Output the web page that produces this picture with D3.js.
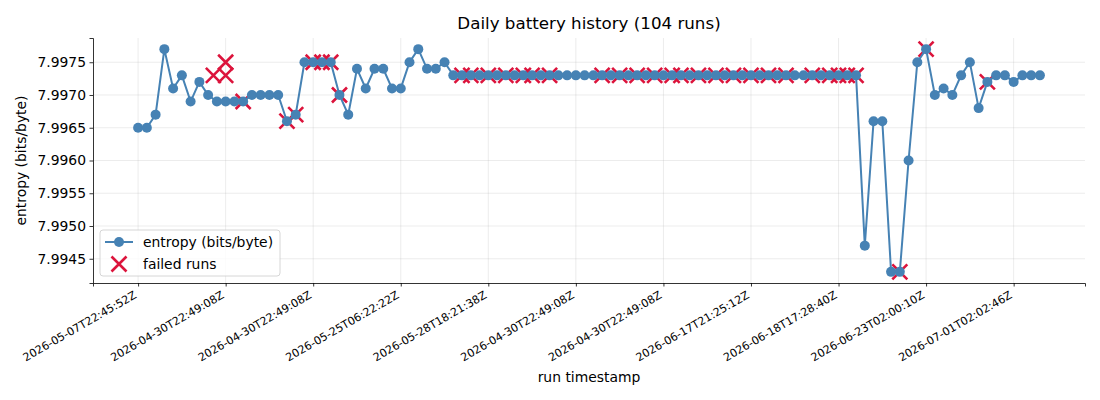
<!DOCTYPE html>
<html lang="en">
<head>
    <meta charset="UTF-8">
    <title>Daily battery history</title>
    <script src="https://d3js.org/d3.v7.min.js"></script>
    <style>
        body { margin: 0; background: #fff; }
        text { font-family: "DejaVu Sans", sans-serif; fill: #000; }
    </style>
</head>
<body>
    <div id="my_dataviz"></div>
    <script>
        // entropy per run, in run order (104 runs)
        var entropy = [
            7.9965, 7.9965, 7.9967, 7.9977, 7.9971, 7.9973, 7.9969, 7.9972, 7.9970, 7.9969,
            7.9969, 7.9969, 7.9969, 7.9970, 7.9970, 7.9970, 7.9970, 7.9966, 7.9967, 7.9975,
            7.9975, 7.9975, 7.9975, 7.9970, 7.9967, 7.9974, 7.9971, 7.9974, 7.9974, 7.9971,
            7.9971, 7.9975, 7.9977, 7.9974, 7.9974, 7.9975, 7.9973, 7.9973, 7.9973, 7.9973,
            7.9973, 7.9973, 7.9973, 7.9973, 7.9973, 7.9973, 7.9973, 7.9973, 7.9973, 7.9973,
            7.9973, 7.9973, 7.9973, 7.9973, 7.9973, 7.9973, 7.9973, 7.9973, 7.9973, 7.9973,
            7.9973, 7.9973, 7.9973, 7.9973, 7.9973, 7.9973, 7.9973, 7.9973, 7.9973, 7.9973,
            7.9973, 7.9973, 7.9973, 7.9973, 7.9973, 7.9973, 7.9973, 7.9973, 7.9973, 7.9973,
            7.9973, 7.9973, 7.9973, 7.9947, 7.9966, 7.9966, 7.9943, 7.9943, 7.9960, 7.9975,
            7.9977, 7.9970, 7.9971, 7.9970, 7.9973, 7.9975, 7.9968, 7.9972, 7.9973, 7.9973,
            7.9972, 7.9973, 7.9973, 7.9973
        ];

        // failed runs: position in run order and value
        var failedIdx = [8.6, 10, 10, 12, 17, 18, 20, 21, 22, 23,
            37, 38, 40, 42, 44, 45, 47, 53, 55, 57, 59, 61, 62, 64, 66, 68, 70, 72, 74, 77, 79, 80, 81, 82,
            87, 90, 97];
        var failedVal = [7.9973, 7.9973, 7.9975, 7.9969, 7.9966, 7.9967, 7.9975, 7.9975, 7.9975, 7.9970,
            7.9973, 7.9973, 7.9973, 7.9973, 7.9973, 7.9973, 7.9973, 7.9973, 7.9973, 7.9973, 7.9973, 7.9973,
            7.9973, 7.9973, 7.9973, 7.9973, 7.9973, 7.9973, 7.9973, 7.9973, 7.9973, 7.9973, 7.9973, 7.9973,
            7.9943, 7.9977, 7.9972];

        // x tick labels, one every 10 runs
        var tickIdx = [0, 10, 20, 30, 40, 50, 60, 70, 80, 90, 100];
        var tickLabels = [
            "2026-05-07T22:45:52Z", "2026-04-30T22:49:08Z", "2026-04-30T22:49:08Z",
            "2026-05-25T06:22:22Z", "2026-05-28T18:21:38Z", "2026-04-30T22:49:08Z",
            "2026-04-30T22:49:08Z", "2026-06-17T21:25:12Z", "2026-06-18T17:28:40Z",
            "2026-06-23T02:00:10Z", "2026-07-01T02:02:46Z"
        ];
        var yTicks = [7.9945, 7.9950, 7.9955, 7.9960, 7.9965, 7.9970, 7.9975];

        var lineColor = "#4682b4", failColor = "#dc143c";

        var margin = {top: 38, right: 15, bottom: 117, left: 93},
            width = 1100 - margin.left - margin.right,
            height = 400 - margin.top - margin.bottom;

        var root = d3.select("#my_dataviz")
          .append("svg")
            .attr("width", 1100)
            .attr("height", 400);
        var svg = root.append("g")
            .attr("transform", "translate(" + margin.left + "," + margin.top + ")");

        // x: run index with matplotlib-like 5% margins
        var n = entropy.length;
        var xPad = (n - 1) * 0.05;
        var x = d3.scaleLinear()
            .domain([-xPad, n - 1 + xPad])
            .range([0, width]);

        var yMin = d3.min(entropy), yMax = d3.max(entropy);
        var yPad = (yMax - yMin) * 0.05;
        var y = d3.scaleLinear()
            .domain([yMin - yPad, yMax + yPad])
            .range([height, 0]);

        // grid
        svg.append("g").selectAll("line").data(tickIdx).enter().append("line")
            .attr("x1", function(d) { return x(d); }).attr("x2", function(d) { return x(d); })
            .attr("y1", 0).attr("y2", height)
            .style("stroke", "#b0b0b0").style("stroke-opacity", 0.3).style("stroke-width", 0.8);
        svg.append("g").selectAll("line").data(yTicks).enter().append("line")
            .attr("x1", 0).attr("x2", width)
            .attr("y1", function(d) { return y(d); }).attr("y2", function(d) { return y(d); })
            .style("stroke", "#b0b0b0").style("stroke-opacity", 0.3).style("stroke-width", 0.8);

        // axes
        var xAxis = svg.append("g")
            .attr("transform", "translate(0," + height + ")")
            .call(d3.axisBottom(x).tickValues(tickIdx).tickSize(3.5).tickPadding(3.5)
                .tickFormat(function(d, i) { return tickLabels[i]; }));
        xAxis.selectAll("text")
            .style("font-size", "11.1px")
            .style("text-anchor", "end")
            .attr("y", 0).attr("dy", 0)
            .attr("transform", "translate(-1.3,14.3) rotate(-30)");

        var yAxis = svg.append("g")
            .call(d3.axisLeft(y).tickValues(yTicks).tickSize(3.5).tickPadding(3.5)
                .tickFormat(d3.format(".4f")));
        yAxis.selectAll("text").style("font-size", "13.9px");

        [xAxis, yAxis].forEach(function(a) {
            a.select(".domain").style("stroke", "#000").style("stroke-width", 0.8);
            a.selectAll(".tick line").style("stroke", "#000").style("stroke-width", 0.8);
        });

        // failed runs (x markers, under the line)
        var xs = 7.5;
        var failed = failedIdx.map(function(d, i) { return [d, failedVal[i]]; });
        svg.append("g").selectAll("path").data(failed).enter().append("path")
            .attr("transform", function(d) { return "translate(" + x(d[0]) + "," + y(d[1]) + ")"; })
            .attr("d", "M" + (-xs) + "," + (-xs) + "L" + xs + "," + xs + "M" + (-xs) + "," + xs + "L" + xs + "," + (-xs))
            .style("stroke", failColor).style("stroke-width", 2.6).style("fill", "none");

        // entropy line + dots
        svg.append("path")
            .datum(entropy)
            .attr("fill", "none")
            .attr("stroke", lineColor)
            .attr("stroke-width", 2)
            .attr("d", d3.line()
                .x(function(d, i) { return x(i); })
                .y(function(d) { return y(d); }));
        svg.append("g").selectAll("circle").data(entropy).enter().append("circle")
            .attr("cx", function(d, i) { return x(i); })
            .attr("cy", function(d) { return y(d); })
            .attr("r", 5)
            .style("fill", lineColor);

        // title and axis labels
        root.append("text")
            .attr("x", margin.left + width / 2).attr("y", 29)
            .style("text-anchor", "middle").style("font-size", "16.7px")
            .text("Daily battery history (104 runs)");
        root.append("text")
            .attr("x", margin.left + width / 2).attr("y", 382)
            .style("text-anchor", "middle").style("font-size", "13.9px")
            .text("run timestamp");
        root.append("text")
            .attr("transform", "translate(26," + (margin.top + height / 2) + ") rotate(-90)")
            .style("text-anchor", "middle").style("font-size", "13.9px")
            .text("entropy (bits/byte)");

        // legend
        var lg = svg.append("g").attr("transform", "translate(7," + (height - 53) + ")");
        lg.append("rect")
            .attr("width", 180).attr("height", 46).attr("rx", 3)
            .style("fill", "#fff").style("fill-opacity", 0.8)
            .style("stroke", "#cccccc").style("stroke-width", 0.8);
        lg.append("line").attr("x1", 5).attr("x2", 33).attr("y1", 12).attr("y2", 12)
            .style("stroke", lineColor).style("stroke-width", 2);
        lg.append("circle").attr("cx", 19).attr("cy", 12).attr("r", 5).style("fill", lineColor);
        lg.append("path")
            .attr("transform", "translate(19,34)")
            .attr("d", "M" + (-xs) + "," + (-xs) + "L" + xs + "," + xs + "M" + (-xs) + "," + xs + "L" + xs + "," + (-xs))
            .style("stroke", failColor).style("stroke-width", 2.6);
        lg.append("text").attr("x", 43).attr("y", 17).style("font-size", "13.9px").text("entropy (bits/byte)");
        lg.append("text").attr("x", 43).attr("y", 39).style("font-size", "13.9px").text("failed runs");
    </script>
</body>
</html>
